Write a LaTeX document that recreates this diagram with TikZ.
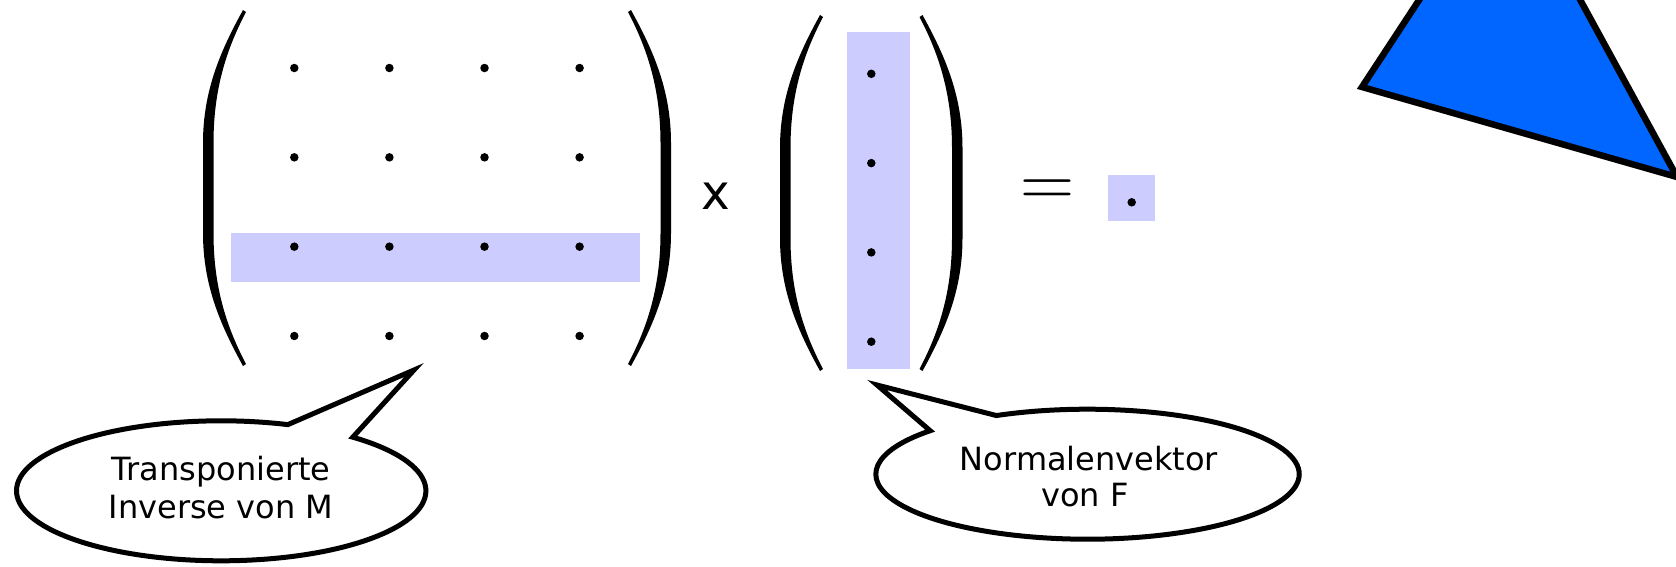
\documentclass[tikz,border=0pt]{standalone}
\usepackage{fontspec}
\newfontfamily\dejavu{DejaVu Sans}
\definecolor{hlblue}{HTML}{CCCCFF}
\definecolor{triblue}{HTML}{0066FF}
\tikzset{
  hlbox/.style={fill=hlblue, draw=none, inner sep=0pt, outer sep=0pt},
  dotc/.style={circle, fill=black, draw=none, inner sep=0pt, minimum size=8.5pt},
  bubble/.style={draw=black, line width=5pt, fill=white, line join=miter},
  lbl/.style={font=\dejavu\fontsize{32}{38}\selectfont, inner sep=0pt, anchor=base},
  lparen/.pic={
    \fill[black] (0,0) .. controls (-22,40) and (-40,80) .. (-40,133)
      -- (-40,223) .. controls (-40,276) and (-22,316) .. (0,356)
      -- (3,354) .. controls (-17,316) and (-29.5,276) .. (-29.5,223)
      -- (-29.5,133) .. controls (-29.5,80) and (-17,40) .. (3,2) -- cycle;
  }
}
\begin{document}
\begin{tikzpicture}[x=1pt,y=-1pt]
\useasboundingbox (0,0) rectangle (1676,566);
% highlights
\node[hlbox, minimum width=409pt, minimum height=49pt] (rowhl) at (435.5,257.5) {};
\node[hlbox, minimum width=63pt, minimum height=337pt] (colhl) at (878.5,200.5) {};
\node[hlbox, minimum width=47pt, minimum height=46pt] (reshl) at (1131.5,197.8) {};
% matrix dots
\foreach \i in {0,...,3}{
  \foreach \j in {0,...,3}{
    \node[dotc] (m\j\i) at ({294.3+95.1*\i},{68+89.33*\j}) {};
  }
}
% vector dots
\foreach \j in {0,...,3}{
  \node[dotc] (v\j) at (871.3,{73.8+89.3*\j}) {};
}
\node[dotc] (res) at (1131.7,202.3) {};
% parentheses
\pic at (243,10) {lparen};
\pic[xscale=-1] at (631,10) {lparen};
\pic at (820,15) {lparen};
\pic[xscale=-1] at (922.5,15) {lparen};
% operators
\node[font=\dejavu\fontsize{48.5}{50}\selectfont, anchor=base, inner sep=0pt] (times) at (715.5,209.3) {x};
\node[font=\rmfamily\fontsize{75}{80}\selectfont, anchor=base, inner sep=0pt] (eq) at (1047.5,206.4) {=};
% triangle
\begin{scope}
  \clip (0,0) rectangle (1676,566);
  \draw[fill=triblue, line width=6.5pt] (1507,-134) -- (1362,87) -- (1677,177) -- cycle;
\end{scope}
% callout 1
\coordinate (c1) at (221.2,490.8);
\coordinate (tip1) at (414,370);
\draw[bubble] (c1) ++(-50:204.7 and 70) arc[start angle=-50, end angle=289, x radius=204.7, y radius=70] -- (tip1) -- cycle;
\node[lbl] (t1a) at (221,480) {Transponierte};
\node[lbl] (t1b) at (221,518.3) {Inverse von M};
% callout 2
\coordinate (c2) at (1087.5,474.2);
\coordinate (tip2) at (877,385);
\draw[bubble] (c2) ++(-115.5:211.7 and 65) arc[start angle=-115.5, end angle=222, x radius=211.7, y radius=65] -- (tip2) -- cycle;
\node[lbl] (t2a) at (1089,470) {Normalenvektor};
\node[lbl] (t2b) at (1085,506.7) {von F};
\end{tikzpicture}
\end{document}
